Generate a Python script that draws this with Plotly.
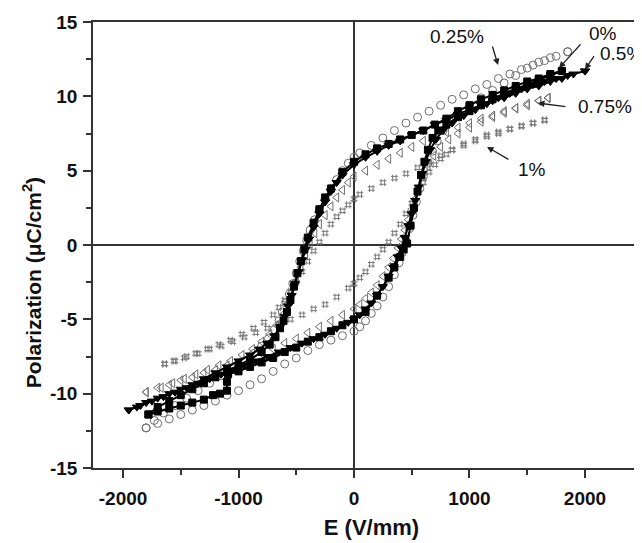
import plotly.graph_objects as go

# hysteresis loops, E in V/mm, P in uC/cm2
# each loop: descending branch (from +Emax) then ascending branch (from -Emax)

e_0_down = [1800, 1700, 1600, 1500, 1400, 1300, 1200, 1100, 1000, 900, 800, 700, 600, 500, 400, 300, 200, 100, 0,
            -100, -200, -250, -300, -350, -400, -430, -460, -490, -520, -550, -580, -610, -640, -680, -730, -800,
            -900, -1000, -1100, -1200, -1300, -1400, -1500, -1600, -1700, -1780]
p_0_down = [11.7, 11.5, 11.2, 11.0, 10.7, 10.4, 10.1, 9.8, 9.4, 9.0, 8.5, 8.1, 7.7, 7.4, 7.1, 6.8, 6.5, 6.1, 5.6,
            4.9, 3.8, 3.2, 2.4, 1.5, 0.5, -0.3, -1.1, -1.9, -2.8, -3.7, -4.5, -5.1, -5.6, -6.2, -6.7, -7.2,
            -7.7, -8.1, -8.5, -8.9, -9.3, -9.7, -10.1, -10.5, -10.9, -11.4]
e_0_up = [-1780, -1700, -1600, -1500, -1400, -1300, -1220, -1160, -1100, -1100, -1090, -1000, -900, -800, -700,
          -600, -500, -400, -300, -200, -100, 0, 100, 200, 300, 350, 400, 430, 460, 490, 520, 550, 580, 610, 640,
          680, 730, 800, 900, 1000, 1100, 1200, 1300, 1400, 1500, 1600, 1700, 1800]
p_0_up = [-11.4, -11.2, -11.0, -10.8, -10.6, -10.4, -10.1, -10.0, -9.8, -9.2, -8.7, -8.5, -8.2, -7.9, -7.6,
          -7.2, -6.9, -6.5, -6.2, -5.8, -5.4, -5.0, -4.5, -3.4, -2.2, -1.5, -0.8, -0.3, 0.1, 1.3, 2.5, 3.6, 4.7, 5.6, 6.4,
          7.2, 7.7, 8.1, 8.6, 9.0, 9.4, 9.8, 10.2, 10.5, 10.8, 11.1, 11.4, 11.7]

e_025_down = [1850, 1750, 1650, 1550, 1450, 1350, 1250, 1150, 1050, 950, 850, 750, 650, 550, 450, 350, 250, 150, 50, 0,
              -50, -100, -150, -200, -250, -300, -340, -380, -410, -440, -470, -500, -530, -560, -590, -620, -650,
              -690, -740, -800, -870, -950, -1050, -1150, -1250, -1350, -1450, -1550, -1650, -1730, -1800]
p_025_down = [13.0, 12.7, 12.4, 12.1, 11.8, 11.5, 11.2, 10.8, 10.5, 10.1, 9.8, 9.4, 9.0, 8.6, 8.2, 7.7, 7.2, 6.7, 6.2, 5.9,
              5.5, 5.0, 4.4, 3.8, 3.1, 2.4, 1.7, 1.0, 0.3, -0.4, -1.1, -1.9, -2.6, -3.3, -3.9, -4.5, -5.1,
              -5.7, -6.3, -6.8, -7.3, -7.8, -8.3, -8.8, -9.3, -9.8, -10.3, -10.8, -11.3, -11.8, -12.3]
e_025_up = [-1800, -1700, -1600, -1500, -1400, -1300, -1200, -1100, -1000, -900, -800, -700, -600, -500, -400, -300,
            -200, -100, 0, 50, 100, 150, 200, 250, 300, 350, 390, 420, 450, 480, 510, 540, 570, 600, 640, 680, 720,
            770, 830, 900, 1000, 1100, 1200, 1300, 1400, 1500, 1600, 1700, 1850]
p_025_up = [-12.3, -12.0, -11.7, -11.4, -11.1, -10.8, -10.5, -10.1, -9.8, -9.4, -9.0, -8.5, -8.0, -7.6, -7.1, -6.7,
            -6.4, -6.1, -5.8, -5.5, -5.1, -4.6, -4.1, -3.5, -2.8, -2.0, -1.2, -0.5, 0.3, 1.1, 2.0, 2.9, 3.8, 4.6, 5.5, 6.3, 7.0,
            7.7, 8.3, 8.8, 9.4, 9.9, 10.4, 10.9, 11.4, 11.9, 12.3, 12.6, 13.0]

e_05_down = [2000, 1900, 1800, 1700, 1600, 1500, 1400, 1300, 1200, 1100, 1000, 900, 800, 700, 600, 500, 400, 300, 200,
             100, 0, -100, -150, -200, -250, -300, -350, -390, -420, -450, -480, -510, -540, -570, -600, -640, -690,
             -750, -820, -900, -1000, -1100, -1200, -1300, -1400, -1500, -1600, -1700, -1800, -1880, -1950]
p_05_down = [11.7, 11.5, 11.2, 11.0, 10.7, 10.5, 10.2, 9.9, 9.7, 9.4, 9.1, 8.8, 8.4, 8.1, 7.7, 7.4, 7.0, 6.7, 6.3,
             5.9, 5.4, 4.7, 4.2, 3.6, 2.9, 2.1, 1.2, 0.4, -0.3, -1.0, -1.8, -2.6, -3.4, -4.1, -4.8, -5.5, -6.1,
             -6.6, -7.0, -7.4, -7.8, -8.2, -8.6, -9.0, -9.4, -9.7, -10.0, -10.3, -10.6, -10.9, -11.1]
e_05_up = [-1950, -1850, -1750, -1650, -1550, -1450, -1350, -1250, -1150, -1050, -950, -850, -750, -650, -550, -450,
           -350, -250, -150, -50, 0, 50, 100, 150, 200, 250, 300, 340, 380, 410, 440, 470, 500, 530, 560, 590, 620,
           660, 710, 770, 850, 950, 1050, 1150, 1250, 1350, 1450, 1550, 1650, 1750, 1850, 2000]
p_05_up = [-11.1, -10.8, -10.5, -10.2, -9.9, -9.6, -9.3, -9.0, -8.7, -8.4, -8.1, -7.8, -7.5, -7.2, -6.9, -6.6,
           -6.3, -6.0, -5.6, -5.2, -5.0, -4.7, -4.3, -3.9, -3.4, -2.8, -2.1, -1.5, -0.8, -0.2, 0.5, 1.3, 2.1, 3.0, 3.9, 4.8, 5.6,
           6.4, 7.1, 7.7, 8.2, 8.7, 9.1, 9.5, 9.9, 10.2, 10.5, 10.8, 11.0, 11.2, 11.4, 11.7]

e_075_down = [1680, 1600, 1500, 1400, 1300, 1200, 1100, 1000, 900, 800, 700, 600, 500, 400, 300, 200, 100, 0, -50,
              -100, -150, -200, -250, -300, -340, -380, -420, -460, -500, -540, -580, -620, -670, -730, -800, -880,
              -970, -1070, -1170, -1270, -1370, -1470, -1570, -1670, -1800]
p_075_down = [9.9, 9.7, 9.5, 9.2, 9.0, 8.7, 8.5, 8.2, 7.9, 7.6, 7.3, 7.0, 6.6, 6.2, 5.8, 5.4, 5.0, 4.6, 4.2,
              3.7, 3.2, 2.6, 2.0, 1.4, 0.8, 0.1, -0.7, -1.5, -2.4, -3.2, -4.0, -4.7, -5.4, -6.0, -6.5, -7.0,
              -7.4, -7.8, -8.1, -8.4, -8.7, -9.0, -9.3, -9.6, -9.9]
e_075_up = [-1800, -1700, -1600, -1500, -1400, -1300, -1200, -1100, -1000, -900, -800, -700, -600, -500, -400, -300,
            -200, -100, 0, 50, 100, 150, 200, 250, 300, 340, 380, 410, 440, 470, 500, 530, 560, 600, 640, 690, 750,
            820, 900, 1000, 1100, 1200, 1300, 1400, 1500, 1600, 1680]
p_075_up = [-9.9, -9.6, -9.4, -9.1, -8.9, -8.6, -8.4, -8.1, -7.9, -7.6, -7.3, -7.0, -6.6, -6.3, -5.9, -5.5,
            -5.1, -4.7, -4.3, -4.0, -3.6, -3.2, -2.7, -2.1, -1.5, -0.9, -0.2, 0.4, 1.0, 1.7, 2.4, 3.1, 3.8, 4.6, 5.3, 6.0, 6.6,
            7.1, 7.5, 7.9, 8.3, 8.6, 8.9, 9.2, 9.4, 9.7, 9.9]

e_1_down = [1650, 1550, 1450, 1350, 1250, 1150, 1050, 950, 850, 750, 650, 550, 450, 350, 250, 150, 50, 0, -50, -100,
            -150, -200, -250, -300, -350, -400, -450, -500, -550, -600, -650, -700, -780, -870, -970, -1070, -1170,
            -1270, -1370, -1470, -1560, -1640]
p_1_down = [8.4, 8.2, 8.0, 7.8, 7.6, 7.4, 7.1, 6.8, 6.4, 6.0, 5.6, 5.2, 4.8, 4.5, 4.2, 3.8, 3.4, 3.1, 2.7, 2.3,
            1.9, 1.4, 0.8, 0.2, -0.4, -1.1, -1.8, -2.5, -3.1, -3.7, -4.2, -4.7, -5.2, -5.6, -6.0, -6.4, -6.7,
            -7.0, -7.3, -7.6, -7.8, -8.0]
e_1_up = [-1640, -1550, -1450, -1350, -1250, -1150, -1050, -950, -850, -750, -650, -550, -450, -350, -250, -150, -50,
          0, 50, 100, 150, 200, 250, 300, 350, 400, 450, 500, 550, 600, 650, 700, 750, 800, 850, 950, 1050, 1150,
          1250, 1350, 1450, 1550, 1650]
p_1_up = [-8.0, -7.8, -7.5, -7.3, -7.0, -6.8, -6.5, -6.2, -5.9, -5.6, -5.3, -5.0, -4.7, -4.3, -4.0, -3.5, -2.9,
          -2.6, -2.2, -1.8, -1.3, -0.8, -0.3, 0.2, 0.8, 1.4, 2.1, 2.8, 3.5, 4.2, 4.9, 5.4, 5.8, 6.1, 6.4, 6.7, 7.0, 7.3,
          7.5, 7.8, 8.0, 8.2, 8.4]

x_ticks = [-2000, -1000, 0, 1000, 2000]
x_tick_text = ["-2000", "-1000", "0", "1000", "2000"]
y_ticks = [-15, -10, -5, 0, 5, 10, 15]
y_tick_text = ["-15", "-10", "-5", "0", "5", "10", "15"]

FONT = "Arial, Liberation Sans, sans-serif"

fig = go.Figure()

def add_loop(ed, pd_, eu, pu, name, symbol, color, size, line_w=0):
    fig.add_trace(go.Scatter(
        x=ed + eu, y=pd_ + pu, mode="lines+markers" if line_w else "markers", name=name,
        line=dict(color=color, width=line_w or 1),
        marker=dict(symbol=symbol, size=size, color=color, line=dict(color=color, width=1)),
    ))

add_loop(e_1_down, p_1_down, e_1_up, p_1_up, "1%", "hash-open", "#7a7a7a", 7)
add_loop(e_075_down, p_075_down, e_075_up, p_075_up, "0.75%", "triangle-left-open", "#6e6e6e", 8)
add_loop(e_025_down, p_025_down, e_025_up, p_025_up, "0.25%", "circle-open", "#6e6e6e", 8)
add_loop(e_05_down, p_05_down, e_05_up, p_05_up, "0.5%", "triangle-down", "#000000", 8, 2)
add_loop(e_0_down, p_0_down, e_0_up, p_0_up, "0%", "square", "#000000", 7, 2)

# labels with arrows
labels = [
    ("0.25%", 892, 14.05, 1195, 13.45, 1247, 12.1),
    ("0%", 2156, 14.26, 1974, 13.6, 1775, 11.9),
    ("0.5%", 2312, 12.9, 2087, 12.8, 2000, 11.8),
    ("0.75%", 2173, 9.35, 1844, 9.3, 1593, 9.55),
    ("1%", 1541, 5.1, 1350, 5.7, 1152, 6.6),
]
for txt, tx, ty, ax0, ay0, hx, hy in labels:
    fig.add_annotation(x=tx, y=ty, text=txt, showarrow=False,
                       font=dict(family=FONT, size=19, color="#111"))
    fig.add_annotation(x=hx, y=hy, ax=ax0, ay=ay0, axref="x", ayref="y", text="",
                       showarrow=True, arrowhead=2, arrowsize=1, arrowwidth=1.3, arrowcolor="#222")

fig.add_annotation(xref="paper", yref="paper", x=-0.136, y=0.415,
                   text="<b>Polarization (\u03bcC/cm<sup>2</sup>)</b>", textangle=-90, showarrow=False,
                   font=dict(family=FONT, size=21, color="#111"))

fig.update_xaxes(
    range=[-2260, 2563], tickvals=x_ticks, ticktext=x_tick_text, ticks="outside", ticklen=8, tickwidth=1.5,
    tickcolor="#333", ticklabelstandoff=4,
    showline=True, linecolor="#333", linewidth=1.5, mirror=True, showgrid=False,
    zeroline=True, zerolinecolor="#333", zerolinewidth=1.5,
    minor=dict(dtick=500, tick0=-2000, ticks="outside", ticklen=5, tickcolor="#333", tickwidth=1.5),
    tickfont=dict(family=FONT, size=19, color="#111", weight="bold"),
    title=dict(text="<b>E (V/mm)</b>", font=dict(family=FONT, size=22, color="#111"), standoff=12),
)
fig.update_yaxes(
    range=[-15, 15], tickvals=y_ticks, ticktext=y_tick_text, ticks="outside", ticklen=8, tickwidth=1.5,
    tickcolor="#333", ticklabelstandoff=2,
    showline=True, linecolor="#333", linewidth=1.5, showgrid=False,
    zeroline=True, zerolinecolor="#333", zerolinewidth=1.5,
    minor=dict(dtick=2.5, tick0=-15, ticks="outside", ticklen=5, tickcolor="#333", tickwidth=1.5),
    tickfont=dict(family=FONT, size=19, color="#111", weight="bold"),
)
fig.update_layout(
    width=642, height=543, margin=dict(l=85, r=0, t=14, b=83),
    plot_bgcolor="white", paper_bgcolor="white", showlegend=False,
)

fig.write_html("out.html")
